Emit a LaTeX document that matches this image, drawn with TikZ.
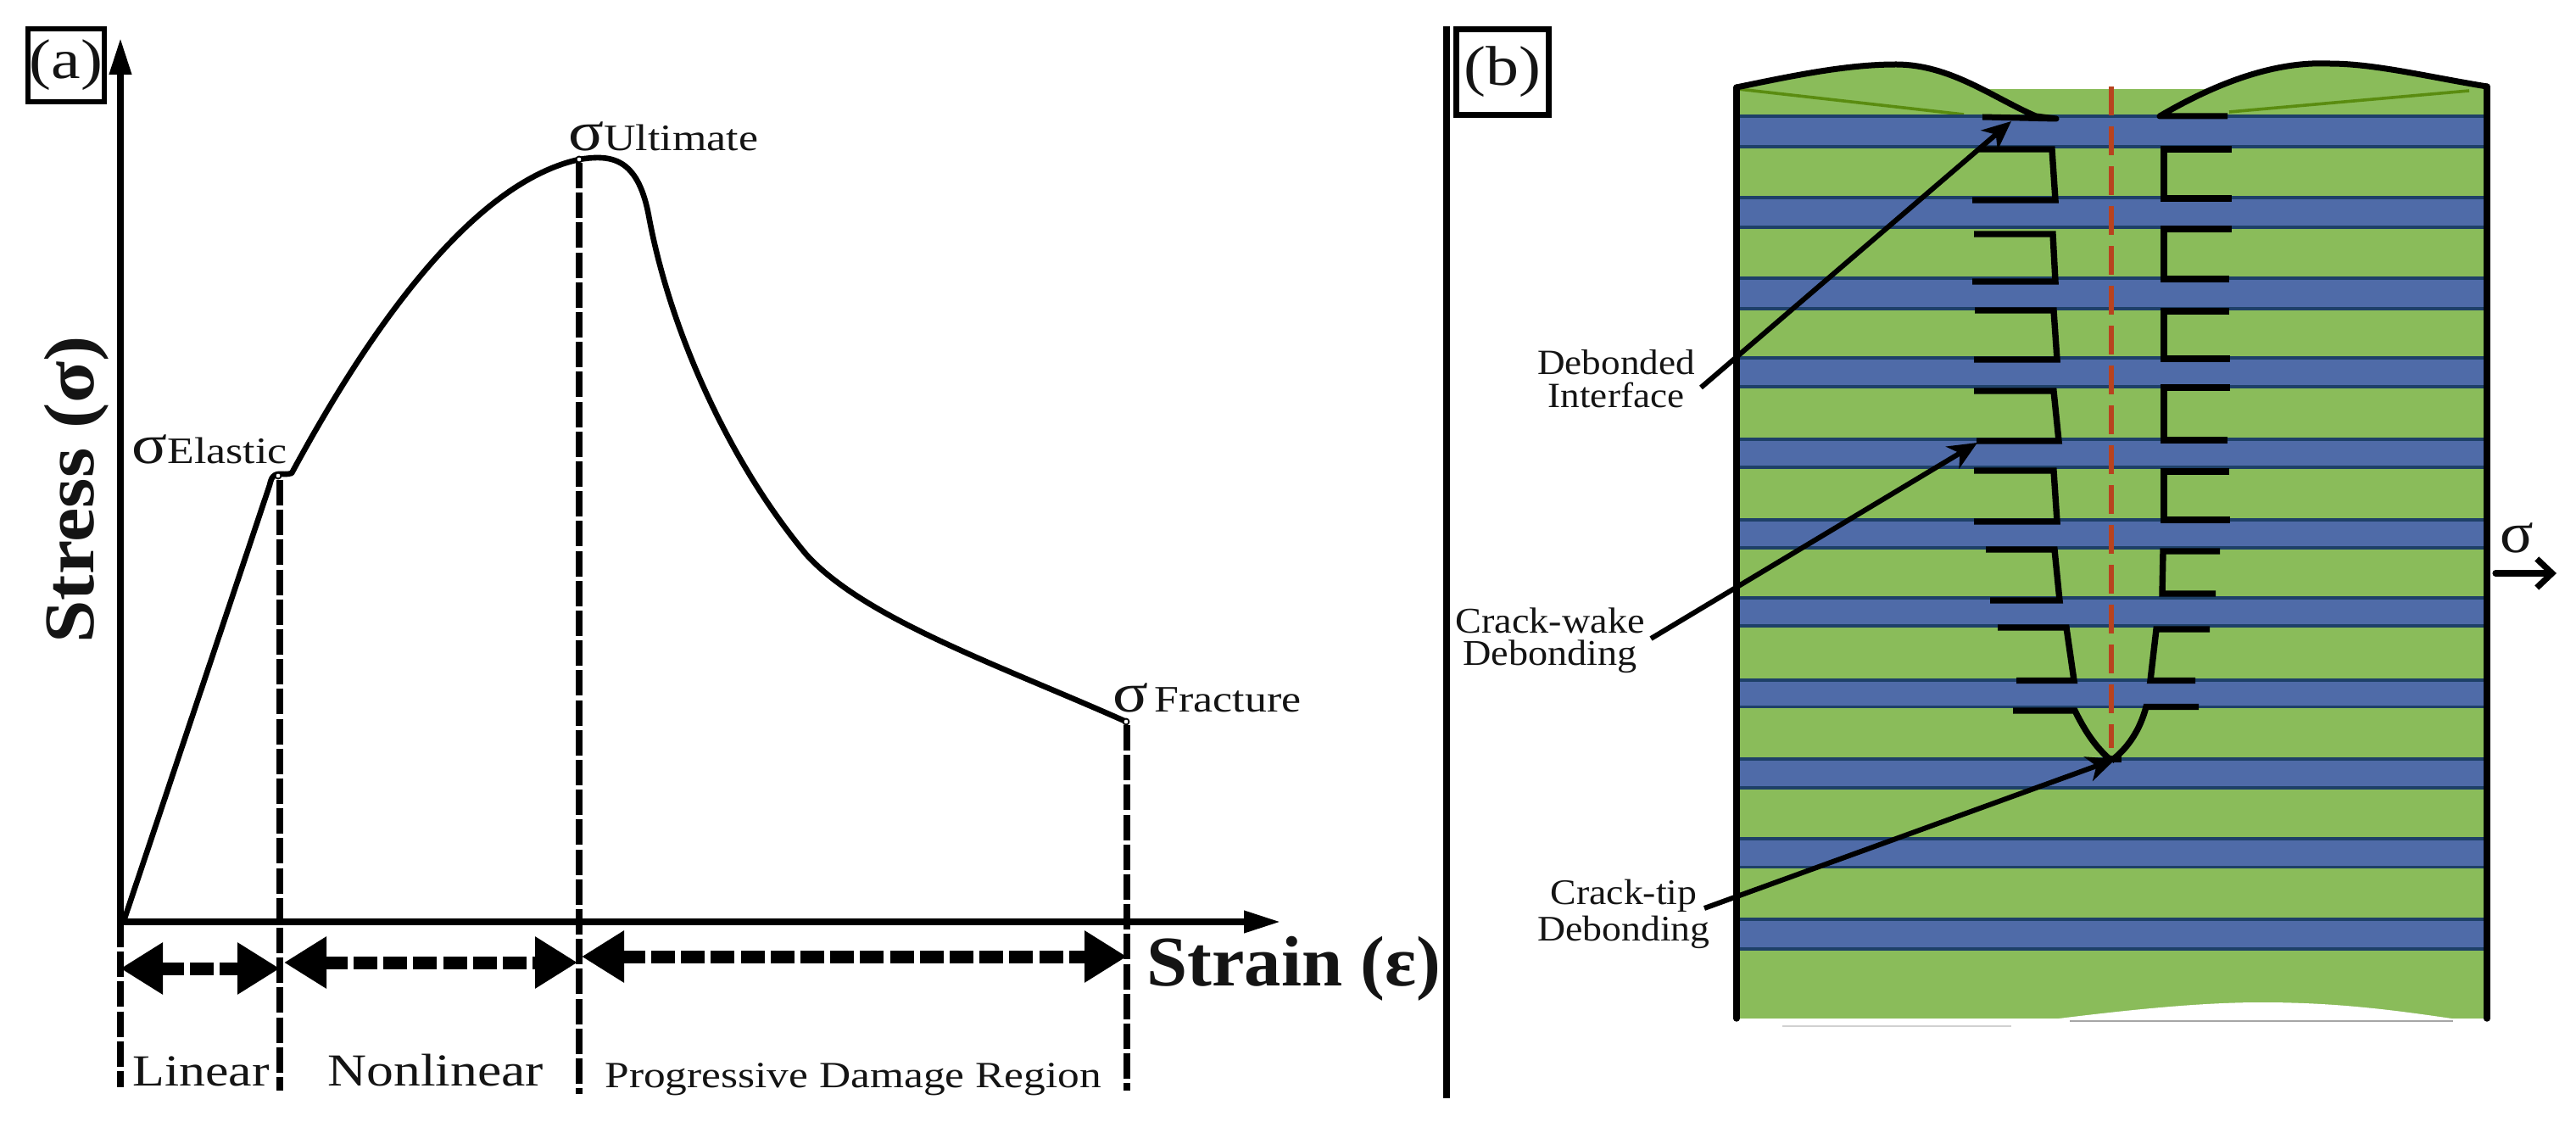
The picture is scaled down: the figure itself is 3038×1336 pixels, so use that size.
\documentclass[tikz,border=0pt]{standalone}
\usepackage{fontspec}
\setmainfont[FakeStretch=1.08]{Liberation Serif}
\newfontfamily\widefont[FakeStretch=1.18]{Liberation Serif}
\newfontfamily\strainfont[FakeStretch=1.03]{Liberation Serif}
\usetikzlibrary{arrows.meta}
\definecolor{grn}{HTML}{8ABC5A}
\definecolor{blu}{HTML}{4F6BA8}
\definecolor{bluedge}{HTML}{1E4068}
\definecolor{redd}{HTML}{B8431F}
\definecolor{dkgrn}{HTML}{5A8C10}
\newcommand{\fs}[1]{\fontsize{#1}{#1}\selectfont}
\newcommand{\sg}{{\fs{33}σ}}
\tikzset{
  lbl/.style={inner sep=0pt,anchor=base west,text=black!92},
  pointerlabel/.style={inner sep=0pt,align=center,text=black!92},
  tagbox/.style={draw=black,line width=3.3pt,fill=white,inner sep=0pt,font=\widefont\fs{33},text=black!92},
  axis/.style={line width=3.6pt,-{Triangle[length=21.5pt,width=12.5pt]}},
  guide/.style={line width=3.6pt,dash pattern=on 15pt off 2.6pt},
  spanarrow/.style={line width=7.5pt,dash pattern=on 14pt off 3.6pt,{Triangle[length=25pt,width=29pt]}-{Triangle[length=25pt,width=29pt]}},
  curve/.style={line width=3.3pt,line join=round},
  pt/.style={circle,draw=black,fill=white,line width=.9pt,inner sep=0pt,minimum size=3.5pt},
  crack/.style={line width=3.7pt,line join=miter},
  pointer/.style={line width=3pt,-{Stealth[length=17pt,width=15pt,inset=5pt]}},
  edge line/.style={line width=3.7pt,line cap=round},
}
\begin{document}
\begin{tikzpicture}[x=0.5pt,y=-0.5pt]
\useasboundingbox (0,0) rectangle (3038,1336);
%% ---------- panel (a)
\coordinate (o) at (142,1087);
\coordinate (ytop) at (142,45);
\coordinate (xend) at (1510,1087);
\coordinate (ob) at (142,1282);
\coordinate (eb) at (330,1286);
\coordinate (ub) at (683,1290);
\coordinate (fb) at (1329,1286);
\coordinate (et) at (330,566);
\coordinate (ut) at (683,192);
\coordinate (ft) at (1329,855);
\draw[guide] (o) -- (ob);
\draw[guide] (et) -- (eb);
\draw[guide] (ut) -- (ub);
\draw[guide] (ft) -- (fb);
\draw[axis] (142,1092) -- (ytop);
\draw[axis] (o) -- (xend);
\draw[curve] (146,1086) -- (318,572) .. controls (322,552) and (332,562) .. (344,558)
  .. controls (440,380) and (560,215) .. (683,188)
  .. controls (720,182) and (752,185) .. (765,254)
  .. controls (790,390) and (860,545) .. (951,654)
  .. controls (1020,730) and (1180,785) .. (1326,850);
\node[pt] (elastic) at (328,561) {};
\node[pt] (ultimate) at (683,188) {};
\node[pt] (fracture) at (1328,851) {};
\coordinate (l1) at (142,1142); \coordinate (l2) at (330,1142);
\coordinate (n1) at (335,1135); \coordinate (n2) at (681,1135);
\coordinate (p1) at (686,1128); \coordinate (p2) at (1329,1128);
\draw[spanarrow] (l1) -- (l2);
\draw[spanarrow] (n1) -- (n2);
\draw[spanarrow] (p1) -- (p2);
\node[tagbox,minimum width=45pt,minimum height=43pt] (taga) at (78,77) {(a)};
\node[lbl,rotate=90,font=\fs{42}\bfseries] (stress) at (110,759) {Stress (σ)};
\node[lbl,font=\strainfont\fs{42}\bfseries] (strain) at (1352,1162) {Strain (ε)};
\node[lbl,font=\widefont\fs{22}] (lu) at (670,178) {\sg Ultimate};
\node[lbl,font=\widefont\fs{22}] (le) at (155,547) {\sg Elastic};
\node[lbl,font=\widefont\fs{22}] (lf) at (1312,840) {\sg\,Fracture};
\node[lbl,font=\widefont\fs{26.2}] (tlin) at (156,1280) {Linear};
\node[lbl,font=\widefont\fs{27}] (tnon) at (386,1280) {Nonlinear};
\node[lbl,font=\widefont\fs{21.8}] (tpro) at (713,1282) {Progressive Damage Region};
%% ---------- divider
\coordinate (d1) at (1706,31); \coordinate (d2) at (1706,1295);
\draw[line width=3.8pt] (d1) -- (d2);
\node[tagbox,minimum width=54.5pt,minimum height=50.5pt] (tagb) at (1772,85) {(b)};
%% ---------- panel (b)
\fill[grn] (2048,105) rectangle (2931,1201);
\fill[grn] (2048,103) .. controls (2120,88) and (2180,76) .. (2236,76) .. controls (2300,76) and (2350,115) .. (2401,137) -- (2048,137) -- cycle;
\fill[grn] (2933,102) .. controls (2860,90) and (2800,75) .. (2747,75) .. controls (2680,72) and (2610,100) .. (2547,137) -- (2933,137) -- cycle;
\draw[dkgrn,line width=1.8pt] (2050,105) -- (2316,135);
\draw[dkgrn,line width=1.8pt] (2912,107) -- (2629,132);
\foreach \a/\b in {137/173,233/268,328/364,422/456,518/551,613/646,705/738,802/833.5,895/929,989/1022.5,1084/1119}{
  \fill[fill=blu] (2048,\a) rectangle (2931,\b);
  \draw[bluedge,line width=1.6pt] (2048,\a) -- (2931,\a) (2048,\b) -- (2931,\b);
}
%% bottom lens
\fill[white] (2412,1203) .. controls (2500,1192) and (2590,1182) .. (2667,1182) .. controls (2760,1182) and (2830,1192) .. (2905,1203) -- cycle;
\draw[black!35,line width=1pt] (2441,1204) -- (2893,1204);
\draw[black!18,line width=1.2pt] (2102,1210) -- (2372,1210);
%% centre line
\coordinate (c1) at (2490,102); \coordinate (c2) at (2490,882);
\draw[redd,line width=2.6pt,dash pattern=on 17pt off 6.5pt] (c1) -- (c2);
%% bumps
\draw[line width=3.5pt,line join=round] (2048,103) .. controls (2120,88) and (2180,76) .. (2236,76) .. controls (2300,76) and (2350,115) .. (2401,137) -- (2425,140) -- (2338,138);
\draw[line width=3.5pt,line join=round] (2933,102) .. controls (2860,90) and (2800,75) .. (2747,75) .. controls (2680,72) and (2610,100) .. (2547,137) -- (2627,137);
%% left crack faces
\draw[crack] (2334,176) -- (2420,176) -- (2424,236) -- (2326,236);
\draw[crack] (2328,276) -- (2421,276) -- (2424,332) -- (2326,332);
\draw[crack] (2329,366) -- (2422,366) -- (2426,424) -- (2328,424);
\draw[crack] (2328,461) -- (2422,461) -- (2428,520) -- (2331,520);
\draw[crack] (2328,555) -- (2422,555) -- (2426,615) -- (2328,615);
\draw[crack] (2342,648) -- (2423,648) -- (2429,708) -- (2347,708);
\draw[crack] (2356,740) -- (2437,740) -- (2446,802.5) -- (2378,802.5);
\draw[crack] (2374,838) -- (2447,838) .. controls (2458,860) and (2470,880) .. (2490,897);
%% right crack faces
\draw[crack] (2632,176) -- (2552,176) -- (2552,234) -- (2632,234);
\draw[crack] (2632,270) -- (2552,270) -- (2552,329) -- (2629,329);
\draw[crack] (2629,367) -- (2552,367) -- (2552,423) -- (2630,423);
\draw[crack] (2630,457) -- (2552,457) -- (2552,519) -- (2627,519);
\draw[crack] (2629,556) -- (2552,556) -- (2552,613) -- (2630,613);
\draw[crack] (2618,650) -- (2551,650) -- (2550,700) -- (2613,700);
\draw[crack] (2606,742) -- (2543,742) -- (2536,802.5) -- (2589,802.5);
\draw[crack] (2593,833.5) -- (2531,833.5) .. controls (2524,860) and (2510,882) .. (2490,897);
\draw[line width=3.7pt] (2480,895) -- (2502,895);
%% outline
\draw[edge line] (2048,103) -- (2048,1201);
\draw[edge line] (2933,102) -- (2933,1201);
%% labels
\node[pointerlabel,font={\fontsize{20.9}{19.5}\selectfont}] (deb) at (1906,447) {Debonded\\Interface};
\node[pointerlabel,font={\fontsize{21.4}{19}\selectfont}] (cw) at (1828,755) {Crack-wake\\Debonding};
\node[pointerlabel,font={\fontsize{21.2}{21.5}\selectfont}] (ct) at (1915,1078) {Crack-tip\\Debonding};
\coordinate (a1) at (2006,457); \coordinate (a2) at (2372,143);
\coordinate (b1) at (1947,753); \coordinate (b2) at (2332,522);
\coordinate (c3) at (2010,1071); \coordinate (c4) at (2495,895);
\draw[pointer] (a1) -- (a2);
\draw[pointer] (b1) -- (b2);
\draw[pointer] (c3) -- (c4);
\node[lbl,font=\fs{34}] (sig) at (2948,652) {σ};
\coordinate (s1) at (2943,676); \coordinate (s2) at (3015,676);
\draw[line width=3.6pt,line cap=round,-{Straight Barb[length=9pt,width=17pt,line width=3.6pt]}] (s1) -- (s2);
\end{tikzpicture}
\end{document}
